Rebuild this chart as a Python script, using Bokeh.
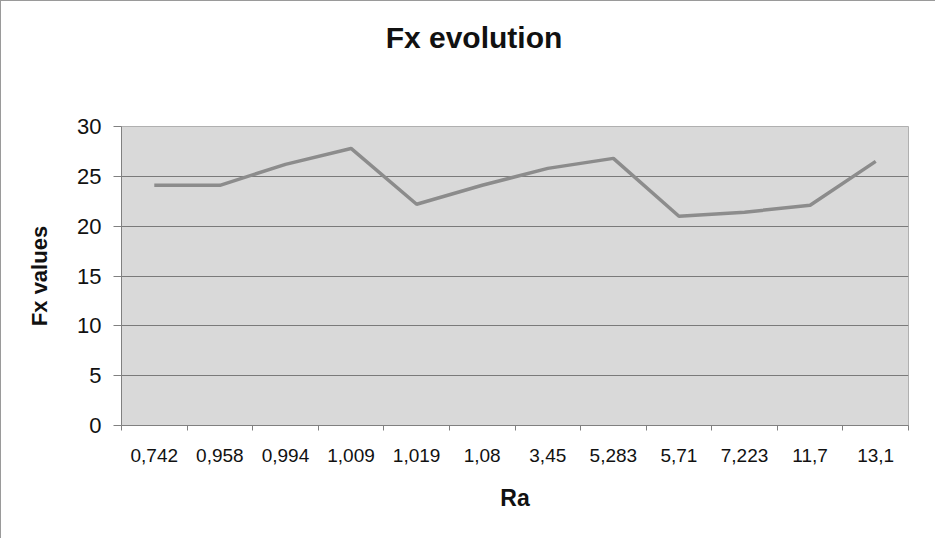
from bokeh.plotting import figure
from bokeh.models import Range1d, FixedTicker, Div
from bokeh.layouts import column
from bokeh.embed import file_html
from bokeh.resources import INLINE

categories = ["0,742", "0,958", "0,994", "1,009", "1,019", "1,08",
              "3,45", "5,283", "5,71", "7,223", "11,7", "13,1"]
fx_values = [24.1, 24.1, 26.2, 27.8, 22.2, 24.1, 25.8, 26.8, 21.0, 21.4, 22.1, 26.5]
y_ticks = [0, 5, 10, 15, 20, 25, 30]
title_text = "Fx evolution"

FONT = "Liberation Sans"
n = len(categories)
xs = list(range(n))

title_div = Div(
    text=('<div style="font-family:\'Liberation Sans\';font-weight:bold;font-size:30px;'
          'line-height:34px;color:#111;text-align:center;width:934px;'
          'padding-top:20px;padding-left:12px;box-sizing:border-box;">'
          + title_text + '</div>'),
    width=934, height=70, margin=0)

p = figure(width=934, height=467, output_backend="svg", toolbar_location=None,
           x_range=Range1d(-0.5, n - 0.5), y_range=Range1d(0, 30),
           min_border_left=120, min_border_right=27,
           min_border_top=55, min_border_bottom=113)

p.background_fill_color = "#d9d9d9"
p.border_fill_color = "white"
p.outline_line_color = "#b0b0b0"

p.line(xs, fx_values, line_color="#8c8c8c", line_width=3.5)

# x axis
xa = p.xaxis[0]
xa.ticker = FixedTicker(ticks=xs, minor_ticks=[i - 0.5 for i in range(n + 1)])
xa.major_label_overrides = {i: c for i, c in enumerate(categories)}
xa.major_tick_line_color = None
xa.major_tick_out = 5
xa.major_tick_in = 0
xa.minor_tick_out = 5
xa.minor_tick_in = 0
xa.minor_tick_line_color = "#808080"
xa.axis_line_color = "#808080"
xa.major_label_text_font = FONT
xa.major_label_text_font_size = "19px"
xa.major_label_text_color = "#111111"
xa.major_label_standoff = 18
xa.axis_label = "Ra"
xa.axis_label_text_font = FONT
xa.axis_label_text_font_size = "23px"
xa.axis_label_text_font_style = "bold"
xa.axis_label_text_color = "#111111"
xa.axis_label_standoff = 20

# y axis
ya = p.yaxis[0]
ya.ticker = FixedTicker(ticks=y_ticks)
ya.major_tick_out = 8
ya.major_tick_in = 0
ya.major_tick_line_color = "#808080"
ya.minor_tick_line_color = None
ya.axis_line_color = "#808080"
ya.major_label_text_font = FONT
ya.major_label_text_font_size = "22px"
ya.major_label_text_color = "#111111"
ya.major_label_standoff = 12
ya.axis_label = "Fx values"
ya.axis_label_text_font = FONT
ya.axis_label_text_font_size = "22px"
ya.axis_label_text_font_style = "bold"
ya.axis_label_text_color = "#111111"
ya.axis_label_standoff = 22

p.xgrid.grid_line_color = None
p.ygrid.ticker = FixedTicker(ticks=y_ticks)
p.ygrid.grid_line_color = "#7a7a7a"
p.ygrid.grid_line_width = 1

layout = column(title_div, p, spacing=0)
layout.styles = {"border-top": "1px solid #9a9a9a", "border-left": "1px solid #9a9a9a",
                 "background-color": "white"}

open("out.html", "w").write(file_html(layout, INLINE))
